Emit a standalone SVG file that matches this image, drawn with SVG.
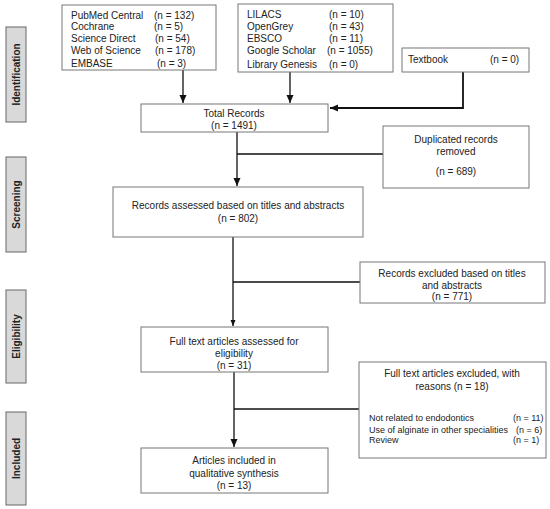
<svg xmlns="http://www.w3.org/2000/svg" width="550" height="509" viewBox="0 0 550 509">
<defs>
<style>
.box{fill:#fff;stroke:#777;stroke-width:1}
.phase{fill:#d9d9d9;stroke:#666;stroke-width:1}
.t{font-family:"Liberation Sans",Arial,sans-serif;font-size:10px;fill:#222}
.c{text-anchor:middle}
.s{font-size:9px}
.ph{font-family:"Liberation Sans",Arial,sans-serif;font-size:10px;font-weight:bold;fill:#222;text-anchor:middle}
.ln{fill:none;stroke:#111;stroke-width:1.3}
</style>
<marker id="arr" markerUnits="userSpaceOnUse" markerWidth="8" markerHeight="8" refX="8" refY="3.5" orient="auto">
<path d="M0,0 L8,3.5 L0,7 z" fill="#111"/>
</marker>
<marker id="arrs" markerUnits="userSpaceOnUse" markerWidth="6" markerHeight="6" refX="6" refY="2.5" orient="auto">
<path d="M0,0 L6,2.5 L0,5 z" fill="#111"/>
</marker>
</defs>
<rect width="550" height="509" fill="#fff"/>

<g id="phase-identification">
<rect class="phase" x="6" y="27" width="20" height="95"/>
<text class="ph" transform="translate(19.6,74.5) rotate(-90)">Identification</text>
</g>
<g id="phase-screening">
<rect class="phase" x="6" y="157" width="20" height="95"/>
<text class="ph" transform="translate(19.6,204.5) rotate(-90)">Screening</text>
</g>
<g id="phase-eligibility">
<rect class="phase" x="6" y="290" width="20" height="93"/>
<text class="ph" transform="translate(19.6,336.5) rotate(-90)">Eligibility</text>
</g>
<g id="phase-included">
<rect class="phase" x="6" y="412" width="20" height="93"/>
<text class="ph" transform="translate(19.6,458.5) rotate(-90)">Included</text>
</g>

<g id="connectors">
<path class="ln" d="M183,70 V103" marker-end="url(#arr)"/>
<path class="ln" d="M290,72 V103" marker-end="url(#arr)"/>
<path class="ln" d="M463,72 V108 H330" marker-end="url(#arr)" style="stroke-width:1.8"/>
<path class="ln" d="M237,132 V186" marker-end="url(#arr)"/>
<path class="ln" d="M237,154 H383"/>
<path class="ln" d="M233,237 V326" marker-end="url(#arrs)"/>
<path class="ln" d="M233,282 H360"/>
<path class="ln" d="M234,372 V447" marker-end="url(#arr)"/>
<path class="ln" d="M234,409 H359"/>
</g>

<g id="sources-1">
<rect class="box" x="62" y="5" width="154" height="65"/>
<text class="t" x="71" y="19">PubMed Central</text><text class="t" x="154" y="19">(n = 132)</text>
<text class="t" x="71" y="30">Cochrane</text><text class="t" x="154" y="30">(n = 5)</text>
<text class="t" x="71" y="42">Science Direct</text><text class="t" x="155" y="42">(n = 54)</text>
<text class="t" x="71" y="54">Web of Science</text><text class="t" x="155" y="54">(n = 178)</text>
<text class="t" x="71" y="67">EMBASE</text><text class="t" x="157" y="67">(n = 3)</text>
</g>

<g id="sources-2">
<rect class="box" x="238" y="4" width="155" height="68"/>
<text class="t" x="247" y="18">LILACS</text><text class="t" x="329" y="18">(n = 10)</text>
<text class="t" x="247" y="30">OpenGrey</text><text class="t" x="329" y="30">(n = 43)</text>
<text class="t" x="247" y="42">EBSCO</text><text class="t" x="329" y="42">(n = 11)</text>
<text class="t" x="247" y="54">Google Scholar</text><text class="t" x="327" y="54">(n = 1055)</text>
<text class="t" x="247" y="68">Library Genesis</text><text class="t" x="329" y="68">(n = 0)</text>
</g>

<g id="textbook">
<rect class="box" x="402" y="48" width="127" height="24"/>
<text class="t" x="408" y="63">Textbook</text><text class="t" x="490" y="63">(n = 0)</text>
</g>

<g id="total-records">
<rect class="box" x="141" y="104" width="187" height="28"/>
<text class="t c" x="234" y="117">Total Records</text>
<text class="t c" x="234" y="129">(n = 1491)</text>
</g>

<g id="duplicates">
<rect class="box" x="383" y="126" width="146" height="62"/>
<text class="t c" x="456" y="143">Duplicated records</text>
<text class="t c" x="456" y="155">removed</text>
<text class="t c" x="456" y="175">(n = 689)</text>
</g>

<g id="screened">
<rect class="box" x="113" y="187" width="250" height="50"/>
<text class="t c" x="238" y="209">Records assessed based on titles and abstracts</text>
<text class="t c" x="238" y="222">(n = 802)</text>
</g>

<g id="excluded-titles">
<rect class="box" x="360" y="262" width="185" height="41"/>
<text class="t c" x="452" y="277">Records excluded based on titles</text>
<text class="t c" x="452" y="289">and abstracts</text>
<text class="t c" x="452" y="300">(n = 771)</text>
</g>

<g id="full-text">
<rect class="box" x="141" y="327" width="187" height="45"/>
<text class="t c" x="234" y="345">Full text articles assessed for</text>
<text class="t c" x="234" y="357">eligibility</text>
<text class="t c" x="234" y="369">(n = 31)</text>
</g>

<g id="excluded-full-text">
<rect class="box" x="359" y="362" width="187" height="96"/>
<text class="t c" x="452" y="377">Full text articles excluded, with</text>
<text class="t c" x="452" y="390">reasons (n = 18)</text>
<text class="t s" x="369" y="421">Not related to endodontics</text><text class="t s" x="513" y="421">(n = 11)</text>
<text class="t s" x="369" y="433">Use of alginate in other specialities</text><text class="t s" x="516" y="433">(n = 6)</text>
<text class="t s" x="369" y="443">Review</text><text class="t s" x="513" y="443">(n = 1)</text>
</g>

<g id="included">
<rect class="box" x="141" y="448" width="187" height="45"/>
<text class="t c" x="234" y="464">Articles included in</text>
<text class="t c" x="234" y="477">qualitative synthesis</text>
<text class="t c" x="234" y="489">(n = 13)</text>
</g>
</svg>
